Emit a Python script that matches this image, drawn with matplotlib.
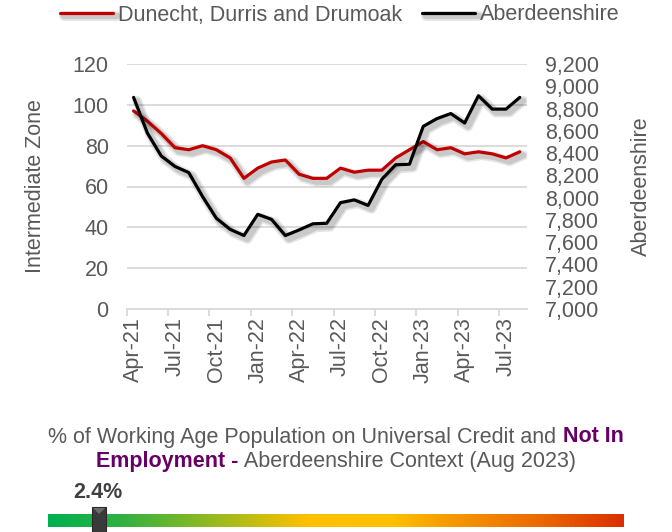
import matplotlib
matplotlib.use("Agg")
import matplotlib.pyplot as plt
import matplotlib.patheffects as pe
from matplotlib.colors import LinearSegmentedColormap
from matplotlib.patches import Rectangle, Polygon
import numpy as np

plt.rcParams['font.family'] = ['Liberation Sans', 'DejaVu Sans']

months = ['Apr-21', 'May-21', 'Jun-21', 'Jul-21', 'Aug-21', 'Sep-21', 'Oct-21', 'Nov-21', 'Dec-21',
          'Jan-22', 'Feb-22', 'Mar-22', 'Apr-22', 'May-22', 'Jun-22', 'Jul-22', 'Aug-22', 'Sep-22',
          'Oct-22', 'Nov-22', 'Dec-22', 'Jan-23', 'Feb-23', 'Mar-23', 'Apr-23', 'May-23', 'Jun-23',
          'Jul-23', 'Aug-23']
zone = [97, 92, 86, 79, 78, 80, 78, 74, 64, 69, 72, 73, 66, 64, 64, 69, 67, 68, 68, 74,
        78, 82, 78, 79, 76, 77, 76, 74, 77]
shire = [8900, 8580, 8375, 8280, 8225, 8010, 7815, 7715, 7660, 7850, 7805, 7660, 7710, 7765,
         7770, 7955, 7980, 7930, 8165, 8295, 8300, 8640, 8710, 8755, 8670, 8915, 8795, 8795, 8900]
zone_name = 'Dunecht, Durris and Drumoak'
shire_name = 'Aberdeenshire'
left_ticks = [0, 20, 40, 60, 80, 100, 120]
right_ticks = list(range(7000, 9201, 200))
gauge_label = '2.4%'

GRAY = '#595959'
GRID = '#D9D9D9'
PURPLE = '#660066'
FS = 15.5

W, H = 672, 532
fig = plt.figure(figsize=(W / 100, H / 100), dpi=100)

def fx(px):
    return px / W

def fy(py):
    return 1 - py / H

ax = fig.add_axes([fx(126.7), fy(309), fx(526.7) - fx(126.7), fy(64) - fy(309)])
ax2 = ax.twinx()

x = np.arange(len(months))

def shadow():
    return [pe.SimpleLineShadow(offset=(2.5, -2.5), shadow_color='k', alpha=0.10, linewidth=7),
            pe.SimpleLineShadow(offset=(2.5, -2.5), shadow_color='k', alpha=0.12, linewidth=4.5),
            pe.Normal()]

l1, = ax.plot(x, zone, color='#C00000', lw=2.3, path_effects=shadow(), zorder=3,
              solid_capstyle='round', solid_joinstyle='round')
l2, = ax2.plot(x, shire, color='#000000', lw=2.3, path_effects=shadow(), zorder=3,
               solid_capstyle='round', solid_joinstyle='round')

ax.set_xlim(-0.5, len(months) - 0.5)
ax.set_ylim(0, 120)
ax2.set_ylim(7000, 9200)
ax.set_yticks(left_ticks)
ax2.set_yticks(right_ticks)
ax2.set_yticklabels([f'{v:,}' for v in right_ticks])

ax.yaxis.grid(True, color=GRID, lw=1.3)
ax.set_axisbelow(True)
for a in (ax, ax2):
    for s in ('top', 'left', 'right'):
        a.spines[s].set_visible(False)
ax.spines['bottom'].set_color(GRID)
ax.spines['bottom'].set_linewidth(1.3)
ax2.spines['bottom'].set_visible(False)

ax.tick_params(axis='y', length=0, pad=13, labelsize=FS, labelcolor=GRAY)
ax2.tick_params(axis='y', length=0, pad=13, labelsize=FS, labelcolor=GRAY)

ax.set_xticks(x[::3])
ax.set_xticklabels(months[::3], rotation=90)
ax.tick_params(axis='x', which='major', length=0, pad=6, labelsize=FS, labelcolor=GRAY)
ax.set_xticks(np.arange(-0.5, len(months) - 1, 3), minor=True)
ax.tick_params(axis='x', which='minor', length=5, width=1.3, color=GRID)

ax.set_ylabel('Intermediate Zone', fontsize=FS, color=GRAY)
ax2.set_ylabel('Aberdeenshire', fontsize=FS, color=GRAY, rotation=90)
ax.yaxis.set_label_coords((46 - 126.7) / 400.0, 0.5)
ax2.yaxis.set_label_coords((631 - 126.7) / 400.0, 0.5)

leg = fig.legend([l1, l2], [zone_name, shire_name], loc='center', ncol=2,
                 bbox_to_anchor=(fx(340), fy(15)), frameon=False, fontsize=FS,
                 handlelength=2.46, handletextpad=0.23, columnspacing=0.93,
                 borderpad=0, borderaxespad=0)
for t in leg.get_texts():
    t.set_color(GRAY)

# Context title with mixed formatting
def rich_line(parts, ycen):
    fig.canvas.draw()
    r = fig.canvas.get_renderer()
    texts = []
    for s, bold, col in parts:
        t = fig.text(0, fy(ycen), s, fontsize=FS, color=col,
                     fontweight='bold' if bold else 'normal', va='center', ha='left')
        texts.append(t)
    widths = [t.get_window_extent(r).width for t in texts]
    total = sum(widths)
    x0 = 336 - total / 2
    for t, w in zip(texts, widths):
        t.set_x(fx(x0))
        x0 += w

rich_line([('% of Working Age Population on Universal Credit and ', False, GRAY),
           ('Not In', True, PURPLE)], 437)
rich_line([('Employment -', True, PURPLE),
           (' Aberdeenshire Context (Aug 2023)', False, GRAY)], 461)

# gauge bar
cmap = LinearSegmentedColormap.from_list('g', [
    (0.0, '#00B050'), (0.12, '#2DB043'), (0.33, '#B2BC18'), (0.45, '#FFC000'),
    (0.60, '#FFC000'), (0.68, '#F7A000'), (0.85, '#EC6A00'), (1.0, '#DA3000')])
gax = fig.add_axes([fx(48), fy(527), fx(624) - fx(48), fy(514) - fy(527)])
gax.imshow(np.linspace(0, 1, 512)[None, :], aspect='auto', cmap=cmap, extent=(0, 1, 0, 1))
gax.set_axis_off()

mx0, mx1, my0, my1 = 92, 106, 507, 533
fig.patches.append(Rectangle((fx(mx0), fy(my1)), fx(mx1) - fx(mx0), fy(my0) - fy(my1),
                             transform=fig.transFigure, facecolor='#3A3A3A',
                             edgecolor='#2A2A2A', lw=0.8, zorder=5))
fig.patches.append(Polygon([(fx(mx0 + 1), fy(my0 + 1)), (fx(mx1 - 1), fy(my0 + 1)),
                            (fx((mx0 + mx1) / 2), fy(my0 + 7))],
                           transform=fig.transFigure, facecolor='#6A6A6A', lw=0, zorder=6))
fig.text(fx(98), fy(493), gauge_label, fontsize=FS, fontweight='bold', color='#404040',
         ha='center', va='center')

fig.savefig('out.png', dpi=100)
